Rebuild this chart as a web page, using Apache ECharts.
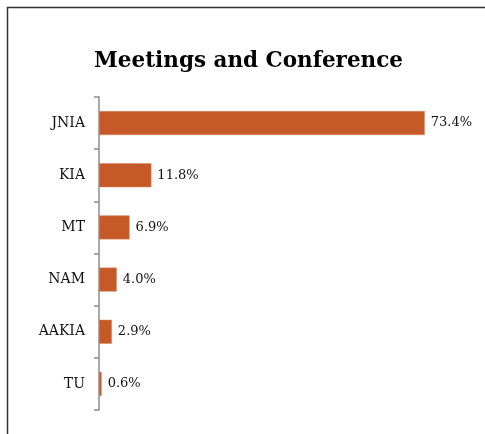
<!DOCTYPE html>
<html>
<head>
<meta charset="utf-8">
<script src="https://cdn.jsdelivr.net/npm/echarts@6/dist/echarts.min.js"></script>
<style>
  html, body { margin: 0; padding: 0; background: #fff; }
  #chart { width: 485px; height: 434px; }
</style>
</head>
<body>
<div id="chart"></div>
<script>
// data
const categories = ["JNIA", "KIA", "MT", "NAM", "AAKIA", "TU"];
const shares = [73.4, 11.8, 6.9, 4.0, 2.9, 0.6];

const chart = echarts.init(document.getElementById("chart"));
chart.setOption({
  animation: false,
  title: {
    text: "Meetings and Conference",
    left: 89,
    top: 45,
    textStyle: {
      fontFamily: "DejaVu Serif",
      fontWeight: "bold",
      fontSize: 21.5,
      color: "#000",
    },
  },
  graphic: [
    {
      type: "rect",
      shape: { x: 7.5, y: 7.5, width: 490, height: 450 },
      style: { fill: "none", stroke: "#333", lineWidth: 1.5 },
    },
  ],
  grid: { left: 99, right: 31, top: 97, bottom: 24 },
  xAxis: {
    type: "value",
    min: 0,
    max: 80,
    show: false,
  },
  yAxis: {
    type: "category",
    inverse: true,
    data: categories,
    axisLine: { show: true, lineStyle: { color: "#8c8c8c", width: 1.5 } },
    axisTick: { show: true, alignWithLabel: false, length: 5, lineStyle: { color: "#8c8c8c", width: 1.5 } },
    axisLabel: {
      fontFamily: "DejaVu Serif",
      fontSize: 14,
      color: "#111",
      margin: 14,
    },
  },
  series: [
    {
      type: "bar",
      data: shares,
      barWidth: "46%",
      itemStyle: { color: "#C55A28", borderColor: "#D9865E", borderWidth: 0.5 },
      label: {
        show: true,
        position: "right",
        distance: 6,
        formatter: (p) => p.value.toFixed(1) + "%",
        fontFamily: "DejaVu Serif",
        fontSize: 13,
        color: "#111",
      },
    },
  ],
});
</script>
</body>
</html>
